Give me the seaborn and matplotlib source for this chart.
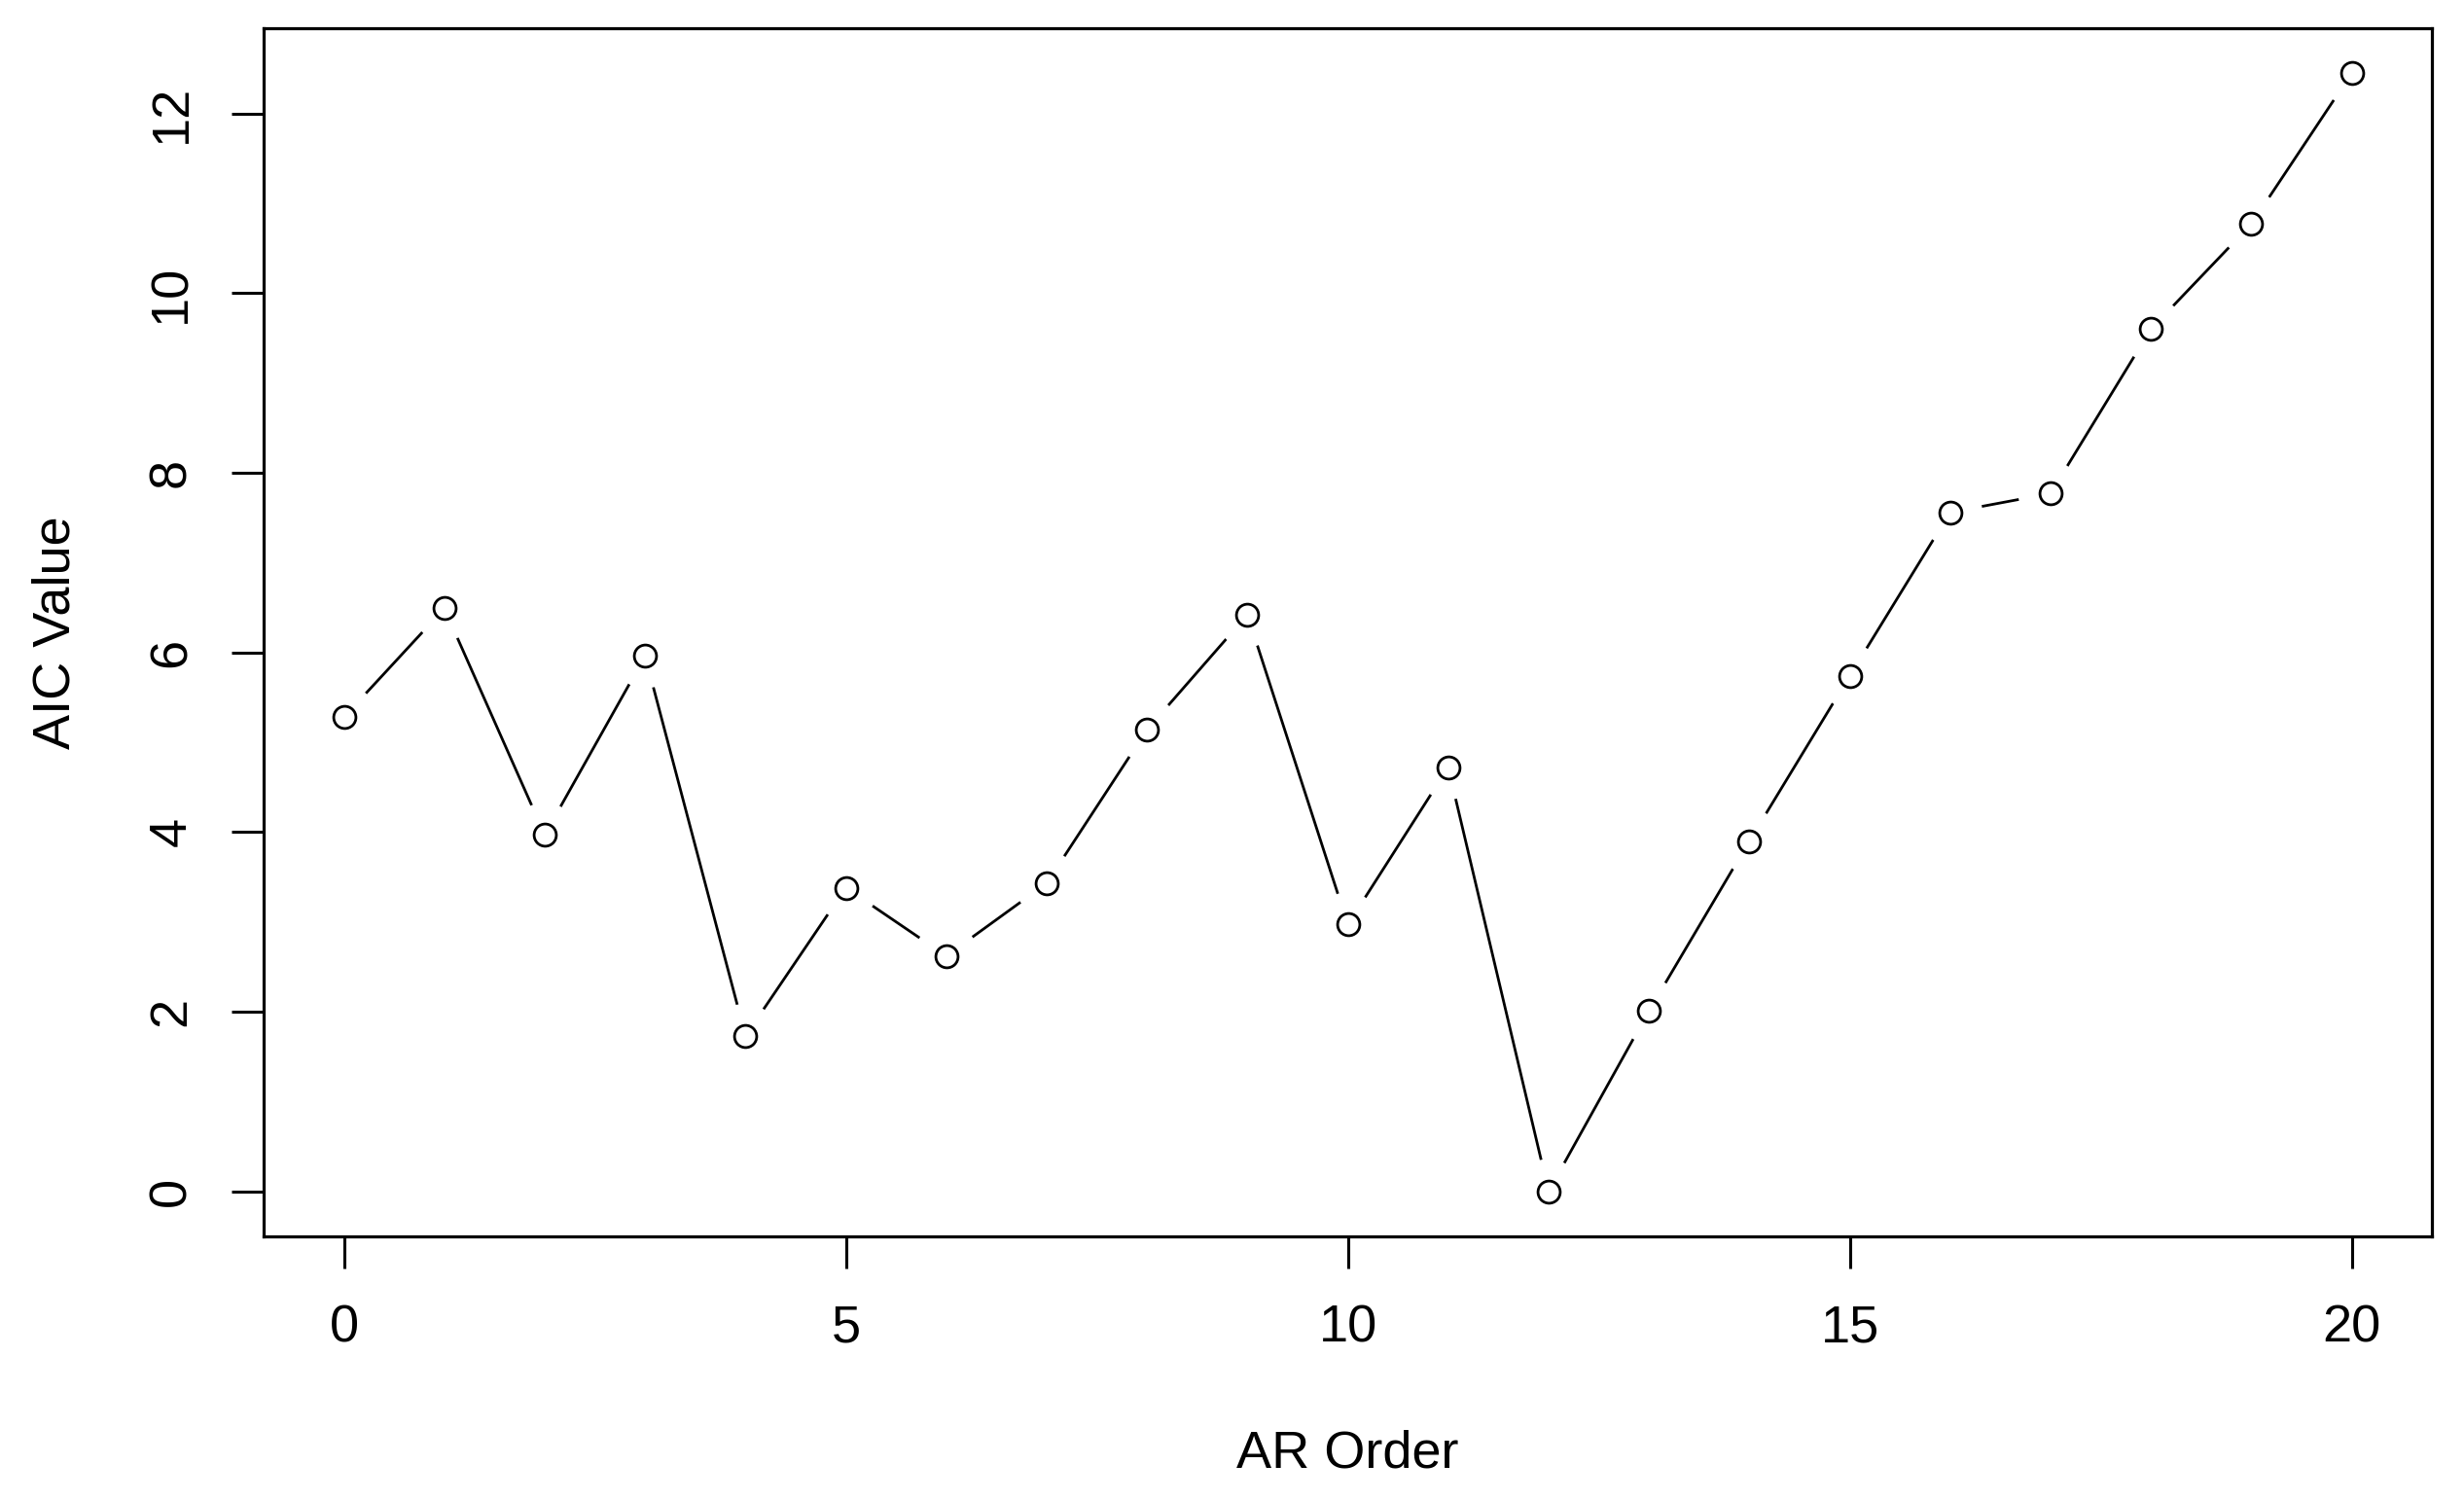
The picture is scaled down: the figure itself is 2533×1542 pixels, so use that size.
import numpy as np
import pandas as pd
import matplotlib
matplotlib.use("Agg")
import matplotlib.pyplot as plt
import seaborn as sns

# du lieu doc tu hinh
ar_order = list(range(21))
aic_value = [5.28, 6.49, 3.97, 5.96, 1.73, 3.38, 2.62, 3.43, 5.14, 6.42,
             2.97, 4.72, 0.00, 2.01, 3.90, 5.74, 7.56, 7.77, 9.60, 10.77, 12.45]
x_ticks = [0, 5, 10, 15, 20]
y_ticks = [0, 2, 4, 6, 8, 10, 12]

df = pd.DataFrame({"order": ar_order, "aic": aic_value})

sns.set_style("white")
plt.rcParams['font.family'] = ['Liberation Sans', 'DejaVu Sans']

fig = plt.figure(figsize=(25.33, 15.42), dpi=100)
ax = fig.add_axes([0.107, 0.176, 0.880, 0.805])

# kieu "b" cua R: duong noi, ho quanh diem, vong tron rong
sns.lineplot(data=df, x="order", y="aic", color="black", linewidth=2.0, ax=ax, zorder=1)
sns.scatterplot(data=df, x="order", y="aic", s=2300, color="white", edgecolor="none",
                linewidth=0, ax=ax, zorder=2)
sns.scatterplot(data=df, x="order", y="aic", s=270, facecolor="white", edgecolor="black",
                linewidth=2.0, ax=ax, zorder=3)

# gioi han truc giong R (mo rong 4%)
xr = max(ar_order) - min(ar_order)
yr = max(aic_value) - min(aic_value)
ax.set_xlim(min(ar_order) - 0.04 * xr, max(ar_order) + 0.04 * xr)
ax.set_ylim(min(aic_value) - 0.04 * yr, max(aic_value) + 0.04 * yr)

ax.set_xticks(x_ticks)
ax.set_yticks(y_ticks)
ax.set_xticklabels([str(t) for t in x_ticks])
ax.set_yticklabels([str(t) for t in y_ticks], rotation=90, va="center")
ax.tick_params(axis="both", direction="out", length=24, width=2.2, color="black",
               labelsize=39, labelcolor="black", bottom=True, left=True)
ax.tick_params(axis="x", pad=26)
ax.tick_params(axis="y", pad=26)

for s in ax.spines.values():
    s.set_visible(True)
    s.set_color("black")
    s.set_linewidth(2.3)

ax.set_xlabel("AR Order", fontsize=39, va="center", color="black")
ax.set_ylabel("AIC Value", fontsize=39, va="center", color="black")
ax.xaxis.set_label_coords(0.5, -0.18)
ax.yaxis.set_label_coords(-0.096, 0.5)

fig.savefig("out.png", dpi=100, facecolor="white")
